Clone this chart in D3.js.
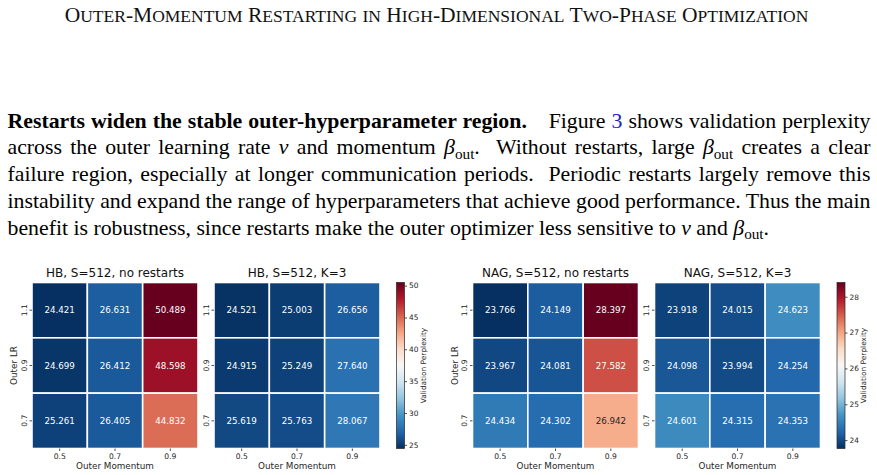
<!DOCTYPE html>
<html>
<head>
<meta charset="utf-8">
<script src="https://cdn.jsdelivr.net/npm/d3@7"></script>
<style>
  body { margin: 0; background: #fff; }
  svg { display: block; }
</style>
</head>
<body>
<svg class="page" width="877" height="475"></svg>
<script>
// ---- data ----
const momentum = ["0.5", "0.7", "0.9"];
const outerLR = ["1.1", "0.9", "0.7"]; // top row first
const hbNoRestart = [[24.421, 26.631, 50.489], [24.699, 26.412, 48.598], [25.261, 26.405, 44.832]];
const hbK3 = [[24.521, 25.003, 26.656], [24.915, 25.249, 27.640], [25.619, 25.763, 28.067]];
const nagNoRestart = [[23.766, 24.149, 28.397], [23.967, 24.081, 27.582], [24.434, 24.302, 26.942]];
const nagK3 = [[23.918, 24.015, 24.623], [24.098, 23.994, 24.254], [24.601, 24.315, 24.353]];
const hbTicks = [25, 30, 35, 40, 45, 50];
const nagTicks = [24, 25, 26, 27, 28];
const panelTitles = ["HB, S=512, no restarts", "HB, S=512, K=3", "NAG, S=512, no restarts", "NAG, S=512, K=3"];

const headerText = "Outer-Momentum Restarting in High-Dimensional Two-Phase Optimization";
// each line: [text, style]
const paragraph = [
  [["Restarts widen the stable outer-hyperparameter region.", "b"], ["\u2003Figure ", ""], ["3", "link"], [" shows validation perplexity", ""]],
  [["across the outer learning rate ", ""], ["\u03bd", "i"], [" and momentum ", ""], ["\u03b2", "i"], ["out", "sub"], [".  Without restarts, large ", ""], ["\u03b2", "i"], ["out", "sub"], [" creates a clear", ""]],
  [["failure region, especially at longer communication periods.  Periodic restarts largely remove this", ""]],
  [["instability and expand the range of hyperparameters that achieve good performance. Thus the main", ""]],
  [["benefit is robustness, since restarts make the outer optimizer less sensitive to ", ""], ["\u03bd", "i"], [" and ", ""], ["\u03b2", "i"], ["out", "sub"], [".", ""]]
];

const svg = d3.select(".page");
const defs = svg.append("defs");

// ---- running header, small caps done by hand (lowercase -> smaller capitals) ----
const header = svg.append("text")
  .attr("x", 436.5)
  .attr("y", 22)
  .attr("text-anchor", "middle")
  .style("font-family", "'Liberation Serif', serif")
  .style("font-size", "21.5px")
  .style("white-space", "pre")
  .attr("fill", "#111");
headerText.match(/[a-z]+|[^a-z]+/g).forEach(run => {
  const small = /[a-z]/.test(run);
  header.append("tspan")
    .style("font-size", small ? "17.5px" : "21.5px")
    .text(run.toUpperCase());
});

const textLeft = 7.5;
const textRight = 870.5;
paragraph.forEach((line, li) => {
  const t = svg.append("text")
    .attr("x", textLeft)
    .attr("y", 127.5 + li * 26.8)
    .style("font-family", "'Liberation Serif', serif")
    .style("font-size", "21.8px")
    .style("white-space", "pre")
    .attr("fill", "#000");
  let shifted = false;
  line.forEach(([s, style]) => {
    const sp = t.append("tspan").text(s);
    if (style === "b") sp.style("font-weight", "bold");
    if (style === "i") sp.style("font-style", "italic");
    if (style === "link") sp.attr("fill", "#2222bb");
    if (style === "sub") {
      sp.style("font-size", "15.2px").attr("dy", 4.5);
      shifted = true;
    } else if (shifted) {
      sp.attr("dy", -4.5);
      shifted = false;
    }
  });
  // justify every line but the last
  if (li < paragraph.length - 1) {
    const natural = t.node().getComputedTextLength();
    const spaces = line.map(d => d[0]).join("").split(" ").length - 1;
    t.style("word-spacing", ((textRight - textLeft - natural) / spaces) + "px");
  }
});

// ---- heatmaps ----
const rdbuR = ["#67001f", "#b2182b", "#d6604d", "#f4a582", "#fddbc7", "#f7f7f7",
  "#d1e5f0", "#92c5de", "#4393c3", "#2166ac", "#053061"].reverse();

function makeColor(lo, hi) {
  return d3.scaleLinear()
    .domain(rdbuR.map((c, i) => lo + (hi - lo) * i / (rdbuR.length - 1)))
    .range(rdbuR)
    .interpolate(d3.interpolateRgb);
}

function luminance(c) {
  const rgb = d3.rgb(c);
  const lin = [rgb.r, rgb.g, rgb.b].map(v => {
    v /= 255;
    return v <= 0.03928 ? v / 12.92 : Math.pow((v + 0.055) / 1.055, 2.4);
  });
  return 0.2126 * lin[0] + 0.7152 * lin[1] + 0.0722 * lin[2];
}

const cellTop = 282.5;
const gridSize = 166;
const sans = "'DejaVu Sans', sans-serif";
const ink = "#262626";

function heatmap(left, values, title, color, withYLabel) {
  const g = svg.append("g");
  const x = d3.scaleBand().domain(momentum).range([left, left + gridSize]);
  const y = d3.scaleBand().domain(outerLR).range([cellTop, cellTop + gridSize]);

  const cells = values.flatMap((row, i) => row.map((v, j) => ({ lr: outerLR[i], m: momentum[j], v })));

  g.selectAll("rect")
    .data(cells)
    .join("rect")
    .attr("x", d => x(d.m))
    .attr("y", d => y(d.lr))
    .attr("width", x.bandwidth())
    .attr("height", y.bandwidth())
    .attr("fill", d => color(d.v))
    .attr("stroke", "#fff")
    .attr("stroke-width", 1.6);

  g.selectAll("text.val")
    .data(cells)
    .join("text")
    .attr("class", "val")
    .attr("x", d => x(d.m) + x.bandwidth() / 2)
    .attr("y", d => y(d.lr) + y.bandwidth() / 2)
    .attr("dy", "0.36em")
    .attr("text-anchor", "middle")
    .style("font-family", sans)
    .style("font-size", "8.7px")
    .attr("fill", d => luminance(color(d.v)) > 0.408 ? ink : "#fff")
    .text(d => d.v.toFixed(3));

  // title
  g.append("text")
    .attr("x", left + gridSize / 2)
    .attr("y", 276.5)
    .attr("text-anchor", "middle")
    .style("font-family", sans)
    .style("font-size", "12px")
    .attr("fill", "#111")
    .text(title);

  // x axis
  const xAxis = g.append("g")
    .attr("transform", `translate(0,${cellTop + gridSize})`)
    .call(d3.axisBottom(x).tickSize(2.5).tickPadding(2.5));
  xAxis.select(".domain").remove();
  xAxis.selectAll("line").attr("stroke", ink).attr("stroke-width", 0.8);
  xAxis.selectAll("text")
    .attr("fill", ink)
    .style("font-family", sans)
    .style("font-size", "7.6px");

  g.append("text")
    .attr("x", left + gridSize / 2)
    .attr("y", 468.5)
    .attr("text-anchor", "middle")
    .style("font-family", sans)
    .style("font-size", "8.8px")
    .attr("fill", ink)
    .text("Outer Momentum");

  // y axis, labels rotated
  const yAxis = g.append("g")
    .attr("transform", `translate(${left},0)`)
    .call(d3.axisLeft(y).tickSize(2.5));
  yAxis.select(".domain").remove();
  yAxis.selectAll("line").attr("stroke", ink).attr("stroke-width", 0.8);
  yAxis.selectAll("text")
    .attr("x", 0)
    .attr("dy", 0)
    .attr("text-anchor", "middle")
    .attr("transform", "translate(-5.3,0) rotate(-90)")
    .attr("fill", ink)
    .style("font-family", sans)
    .style("font-size", "7.6px");

  if (withYLabel) {
    g.append("text")
      .attr("transform", `translate(${left - 14.7},${cellTop + gridSize / 2}) rotate(-90)`)
      .attr("text-anchor", "middle")
      .style("font-family", sans)
      .style("font-size", "8.8px")
      .attr("fill", ink)
      .text("Outer LR");
  }
}

function colorbar(left, color, ticks, id) {
  const [lo, hi] = d3.extent(color.domain());
  const grad = defs.append("linearGradient")
    .attr("id", id)
    .attr("x1", 0).attr("y1", 1)
    .attr("x2", 0).attr("y2", 0);
  grad.selectAll("stop")
    .data(color.domain())
    .join("stop")
    .attr("offset", d => (d - lo) / (hi - lo))
    .attr("stop-color", d => color(d));

  const scale = d3.scaleLinear().domain([lo, hi]).range([cellTop + gridSize, cellTop]);
  const barW = 8;
  svg.append("rect")
    .attr("x", left)
    .attr("y", cellTop)
    .attr("width", barW)
    .attr("height", gridSize)
    .attr("fill", `url(#${id})`)
    .attr("stroke", ink)
    .attr("stroke-width", 0.7);

  const ax = svg.append("g")
    .attr("transform", `translate(${left + barW},0)`)
    .call(d3.axisRight(scale).tickValues(ticks).tickFormat(d3.format("d")).tickSize(2.5).tickPadding(2));
  ax.select(".domain").remove();
  ax.selectAll("line").attr("stroke", ink).attr("stroke-width", 0.8);
  ax.selectAll("text")
    .attr("fill", ink)
    .style("font-family", sans)
    .style("font-size", "7.4px");

  svg.append("text")
    .attr("transform", `translate(${left + 29},${cellTop + gridSize / 2}) rotate(-90)`)
    .attr("text-anchor", "middle")
    .style("font-family", sans)
    .style("font-size", "7.4px")
    .attr("fill", ink)
    .text("Validation Perplexity");
}

const hbColor = makeColor(
  d3.min([...hbNoRestart.flat(), ...hbK3.flat()]),
  d3.max([...hbNoRestart.flat(), ...hbK3.flat()])
);
const nagColor = makeColor(
  d3.min([...nagNoRestart.flat(), ...nagK3.flat()]),
  d3.max([...nagNoRestart.flat(), ...nagK3.flat()])
);

heatmap(32, hbNoRestart, panelTitles[0], hbColor, true);
heatmap(214, hbK3, panelTitles[1], hbColor, false);
colorbar(396.5, hbColor, hbTicks, "hbGrad");

heatmap(472.5, nagNoRestart, panelTitles[2], nagColor, true);
heatmap(654.5, nagK3, panelTitles[3], nagColor, false);
colorbar(837, nagColor, nagTicks, "nagGrad");
</script>
</body>
</html>
